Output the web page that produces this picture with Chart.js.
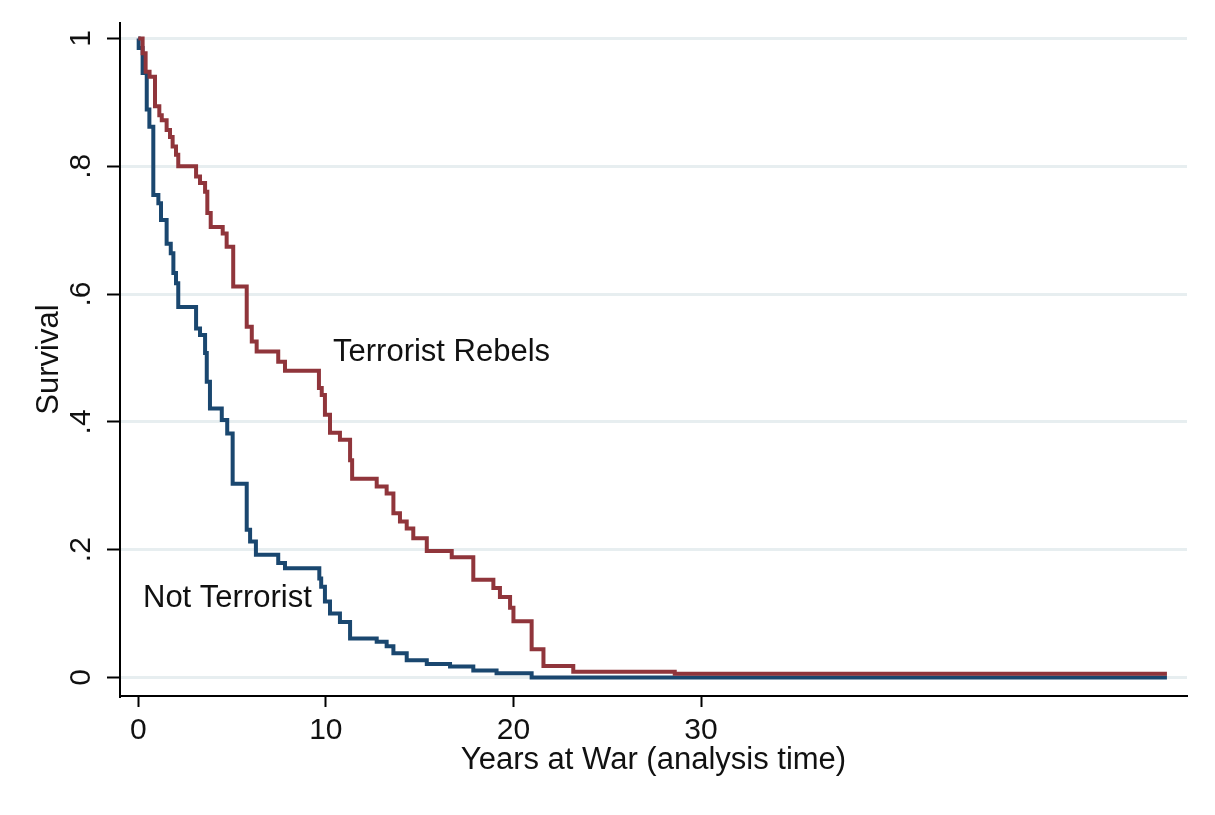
<!DOCTYPE html>
<html>
<head>
<meta charset="utf-8">
<script src="https://cdn.jsdelivr.net/npm/chart.js@4.4.1/dist/chart.umd.min.js"></script>
<style>
  html, body { margin: 0; padding: 0; background: #ffffff; }
  #wrap { width: 1215px; height: 815px; }
</style>
</head>
<body>
<div id="wrap"><canvas id="c" width="1215" height="815"></canvas></div>
<script>
// ---- Data ----
const notTerroristTimes = [0, 0.02, 0.23, 0.45, 0.59, 0.80, 1.07, 1.21, 1.51, 1.73, 1.87, 2.01, 2.13, 3.08, 3.29, 3.56, 3.65, 3.82, 4.45, 4.74, 5.03, 5.78, 5.96, 6.27, 7.46, 7.82, 9.65, 9.75, 9.95, 10.22, 10.75, 11.29, 12.71, 13.24, 13.60, 14.31, 15.38, 16.62, 17.86, 19.10, 20.97, 54.84];
const notTerroristSurvival = [1, 0.985, 0.946, 0.889, 0.862, 0.755, 0.742, 0.716, 0.679, 0.664, 0.633, 0.617, 0.580, 0.546, 0.536, 0.508, 0.463, 0.421, 0.403, 0.382, 0.303, 0.231, 0.213, 0.192, 0.179, 0.171, 0.155, 0.142, 0.119, 0.100, 0.087, 0.061, 0.056, 0.049, 0.038, 0.027, 0.021, 0.017, 0.011, 0.0066, 0.0, 0.0];

const rebelsTimes = [0, 0.23, 0.39, 0.60, 0.89, 1.12, 1.25, 1.51, 1.69, 1.83, 2.01, 2.13, 3.08, 3.29, 3.56, 3.68, 3.86, 4.50, 4.71, 5.06, 5.78, 6.05, 6.31, 7.46, 7.82, 9.63, 9.78, 9.95, 10.22, 10.75, 11.29, 11.40, 12.71, 13.24, 13.60, 13.95, 14.31, 14.66, 15.38, 16.71, 17.86, 18.93, 19.28, 19.82, 20.00, 20.97, 21.60, 23.19, 28.60, 54.84];
const rebelsSurvival = [1, 0.977, 0.948, 0.940, 0.894, 0.880, 0.872, 0.857, 0.846, 0.831, 0.818, 0.800, 0.784, 0.774, 0.760, 0.727, 0.705, 0.695, 0.674, 0.612, 0.549, 0.526, 0.510, 0.494, 0.480, 0.453, 0.442, 0.411, 0.383, 0.372, 0.340, 0.311, 0.299, 0.288, 0.257, 0.244, 0.233, 0.218, 0.198, 0.188, 0.153, 0.140, 0.126, 0.109, 0.088, 0.044, 0.018, 0.009, 0.006, 0.006];

const xTickValues = [0, 10, 20, 30];
const xTickLabels = ['0', '10', '20', '30'];
const yTickValues = [0, 0.2, 0.4, 0.6, 0.8, 1];
const yTickLabels = ['0', '.2', '.4', '.6', '.8', '1'];

const seriesNames = ['Not Terrorist', 'Terrorist Rebels'];
const xTitle = 'Years at War (analysis time)';
const yTitle = 'Survival';

// ---- Build chart ----
const toPoints = (ts, ss) => ts.map((t, i) => ({ x: t, y: ss[i] }));
const FONT = 'Liberation Sans, Arial, sans-serif';
const TEXT = '#111111';

const annotationPlugin = {
  id: 'curveLabels',
  afterDatasetsDraw(chart) {
    const { ctx, scales: { x, y } } = chart;
    const labels = [
      { text: seriesNames[1], t: 10.38, s: 0.508 },
      { text: seriesNames[0], t: 0.25, s: 0.124 }
    ];
    ctx.save();
    ctx.font = '31px ' + FONT;
    ctx.fillStyle = TEXT;
    ctx.textAlign = 'left';
    ctx.textBaseline = 'middle';
    labels.forEach(l => ctx.fillText(l.text, x.getPixelForValue(l.t), y.getPixelForValue(l.s)));
    ctx.restore();
  }
};

new Chart(document.getElementById('c'), {
  type: 'line',
  data: {
    datasets: [
      {
        label: seriesNames[0],
        data: toPoints(notTerroristTimes, notTerroristSurvival),
        borderColor: '#1a476f',
        borderWidth: 4,
        stepped: 'before',
        pointRadius: 0,
        fill: false,
        order: 1
      },
      {
        label: seriesNames[1],
        data: toPoints(rebelsTimes, rebelsSurvival),
        borderColor: '#90353b',
        borderWidth: 4,
        stepped: 'before',
        pointRadius: 0,
        fill: false,
        order: 0
      }
    ]
  },
  options: {
    responsive: false,
    animation: false,
    devicePixelRatio: 1,
    layout: { padding: { top: 23, right: 28, left: 0, bottom: 0 } },
    plugins: { legend: { display: false }, tooltip: { enabled: false } },
    scales: {
      x: {
        type: 'linear',
        min: -0.976,
        max: 55.91,
        afterBuildTicks: s => { s.ticks = xTickValues.map(v => ({ value: v })); },
        afterFit: s => { s.height = 119; s.paddingLeft = 0; s.paddingRight = 0; },
        ticks: {
          autoSkip: false,
          maxRotation: 0,
          padding: 6,
          color: TEXT,
          font: { family: FONT, size: 30 },
          callback: v => xTickLabels[xTickValues.indexOf(v)]
        },
        grid: { drawOnChartArea: false, tickColor: '#000', tickWidth: 2, tickLength: 11 },
        border: { color: '#000', width: 2 },
        title: {
          display: true,
          text: xTitle,
          color: TEXT,
          font: { family: FONT, size: 31 },
          padding: { top: 0, bottom: 36 }
        }
      },
      y: {
        type: 'linear',
        min: -0.029,
        max: 1.0243,
        afterBuildTicks: s => { s.ticks = yTickValues.map(v => ({ value: v })); },
        afterFit: s => { s.width = 120; s.paddingTop = 0; s.paddingBottom = 0; },
        ticks: {
          autoSkip: false,
          minRotation: 90,
          maxRotation: 90,
          crossAlign: 'center',
          padding: 13,
          color: TEXT,
          font: { family: FONT, size: 30 },
          callback: v => yTickLabels[yTickValues.indexOf(v)]
        },
        grid: { color: '#e7eef0', lineWidth: 3, tickColor: '#000', tickWidth: 2, tickLength: 13 },
        border: { color: '#000', width: 2 },
        title: {
          display: true,
          text: yTitle,
          color: TEXT,
          font: { family: FONT, size: 31 },
          padding: { top: 31, bottom: 0 }
        }
      }
    }
  },
  plugins: [annotationPlugin]
});
</script>
</body>
</html>
